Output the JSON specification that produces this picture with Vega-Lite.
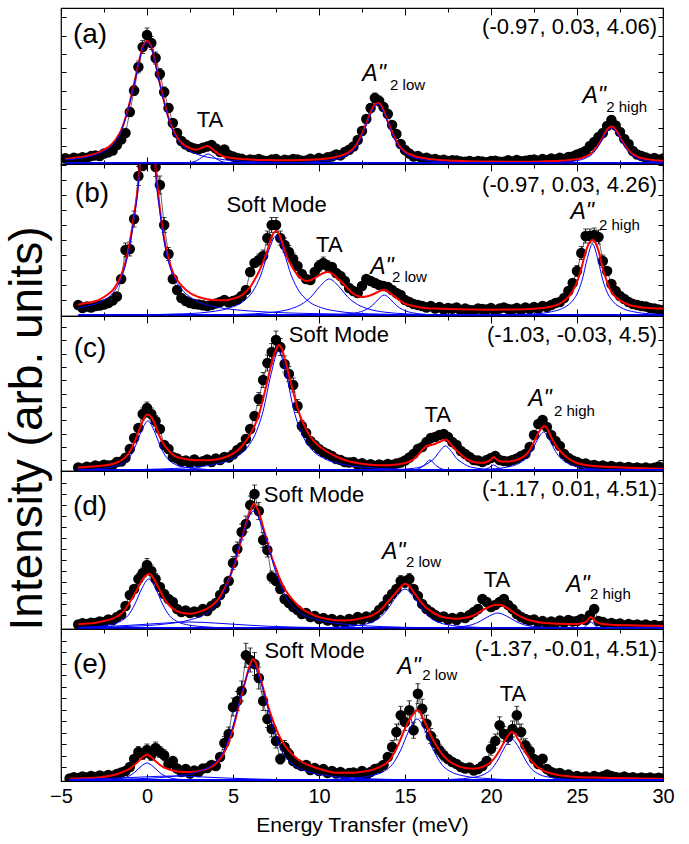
{
"$schema":"https://vega.github.io/schema/vega-lite/v6.json",
"padding":{"left":3,"top":6,"right":20,"bottom":5},
"spacing":0,
"bounds":"flush",
"config":{"view":{"stroke":"black","strokeWidth":1.2},"text":{"font":"Liberation Sans","color":"black"},"concat":{"spacing":0},
"axis":{"domain":false,"grid":false,"labels":false,"tickColor":"black","tickWidth":1,"labelFont":"Liberation Sans","titleFont":"Liberation Sans","titleFontWeight":"normal","labelColor":"black","titleColor":"black","labelFlush":false}},
"datasets":{
"ap":[{"x":-4.75,"y":5.8},{"x":-4.5,"y":4.6},{"x":-4.25,"y":6.3},{"x":-4,"y":5.2},{"x":-3.75,"y":6.8},{"x":-3.5,"y":6},{"x":-3.25,"y":7.9},{"x":-3,"y":8.6},{"x":-2.75,"y":8},{"x":-2.5,"y":10.5},{"x":-2.25,"y":11.8},{"x":-2,"y":13.5},{"x":-1.75,"y":19},{"x":-1.5,"y":24.5},{"x":-1.25,"y":31},{"x":-1,"y":52,"e":4},{"x":-0.75,"y":73.5,"e":5},{"x":-0.5,"y":97,"e":6},{"x":-0.25,"y":117,"e":6.5},{"x":0,"y":129,"e":7},{"x":0.25,"y":121,"e":6.5},{"x":0.5,"y":106,"e":6},{"x":0.75,"y":90,"e":5.5},{"x":1,"y":72,"e":5},{"x":1.25,"y":56,"e":4.5},{"x":1.5,"y":41},{"x":1.75,"y":31},{"x":2,"y":23},{"x":2.25,"y":19.5},{"x":2.5,"y":17},{"x":2.75,"y":15.5},{"x":3,"y":14.8},{"x":3.25,"y":16.2},{"x":3.5,"y":17.5},{"x":3.75,"y":19},{"x":4,"y":15.5},{"x":4.25,"y":12},{"x":4.5,"y":14.5},{"x":4.75,"y":9},{"x":5,"y":7.5},{"x":5.25,"y":6},{"x":5.5,"y":5.2},{"x":5.75,"y":3.6},{"x":6,"y":4.5},{"x":6.25,"y":3.9},{"x":6.5,"y":5},{"x":6.75,"y":3.4},{"x":7,"y":3.1},{"x":7.25,"y":4.4},{"x":7.5,"y":4.9},{"x":7.75,"y":2.8},{"x":8,"y":4.2},{"x":8.25,"y":3.6},{"x":8.5,"y":5},{"x":8.75,"y":4.6},{"x":9,"y":3.3},{"x":9.25,"y":3.6},{"x":9.5,"y":5.2},{"x":9.75,"y":3.9},{"x":10,"y":6},{"x":10.25,"y":4.4},{"x":10.5,"y":6.8},{"x":10.75,"y":7.4},{"x":11,"y":9.5},{"x":11.25,"y":8.6},{"x":11.5,"y":12},{"x":11.75,"y":14.2},{"x":12,"y":17.5},{"x":12.25,"y":24},{"x":12.5,"y":33},{"x":12.75,"y":45,"e":4},{"x":13,"y":56,"e":4.5},{"x":13.25,"y":66,"e":5},{"x":13.5,"y":63,"e":5},{"x":13.75,"y":57,"e":4.5},{"x":14,"y":50,"e":4.5},{"x":14.25,"y":39},{"x":14.5,"y":30},{"x":14.75,"y":20},{"x":15,"y":14},{"x":15.25,"y":10.5},{"x":15.5,"y":7.5},{"x":15.75,"y":8},{"x":16,"y":5.5},{"x":16.25,"y":6.2},{"x":16.5,"y":4.4},{"x":16.75,"y":5},{"x":17,"y":3.4},{"x":17.25,"y":4.2},{"x":17.5,"y":2.9},{"x":17.75,"y":3.8},{"x":18,"y":3.5},{"x":18.25,"y":2.4},{"x":18.5,"y":2.2},{"x":18.75,"y":3},{"x":19,"y":2},{"x":19.25,"y":3.1},{"x":19.5,"y":2.4},{"x":19.75,"y":1.8},{"x":20,"y":2.9},{"x":20.25,"y":3.3},{"x":20.5,"y":2.2},{"x":20.75,"y":2.3},{"x":21,"y":3.8},{"x":21.25,"y":2.6},{"x":21.5,"y":4},{"x":21.75,"y":2.8},{"x":22,"y":3.2},{"x":22.25,"y":4.1},{"x":22.5,"y":4.5},{"x":22.75,"y":3.3},{"x":23,"y":5},{"x":23.25,"y":3.8},{"x":23.5,"y":5.5},{"x":23.75,"y":4.6},{"x":24,"y":6.2},{"x":24.25,"y":5},{"x":24.5,"y":7},{"x":24.75,"y":7.6},{"x":25,"y":9.5},{"x":25.25,"y":11},{"x":25.5,"y":13},{"x":25.75,"y":18},{"x":26,"y":22},{"x":26.25,"y":27},{"x":26.5,"y":31},{"x":26.75,"y":38,"e":3.5},{"x":27,"y":44,"e":4},{"x":27.25,"y":38.5,"e":3.5},{"x":27.5,"y":32},{"x":27.75,"y":25},{"x":28,"y":20},{"x":28.25,"y":13},{"x":28.5,"y":9.5},{"x":28.75,"y":8},{"x":29,"y":6.5},{"x":29.25,"y":5},{"x":29.5,"y":6},{"x":29.75,"y":4.2},{"x":30,"y":5.5}],
"af":[{"x":-4.75,"y":5.2},{"x":-4.5,"y":5.5},{"x":-4,"y":6.5},{"x":-3.5,"y":8.1},{"x":-3,"y":10.2},{"x":-2.5,"y":14.4},{"x":-2.25,"y":16.9},{"x":-2,"y":20.5},{"x":-1.75,"y":26.3},{"x":-1.5,"y":33.9},{"x":-1.25,"y":46.1},{"x":-1,"y":62},{"x":-0.75,"y":80.3},{"x":-0.5,"y":99.8},{"x":-0.25,"y":116.9},{"x":0,"y":123},{"x":0.25,"y":117},{"x":0.5,"y":99.9},{"x":0.75,"y":80.4},{"x":1,"y":62.2},{"x":1.25,"y":46.4},{"x":1.5,"y":34.3},{"x":1.75,"y":26.8},{"x":2,"y":21.2},{"x":2.25,"y":17.9},{"x":2.5,"y":15.9},{"x":2.75,"y":14.5},{"x":3,"y":14.7},{"x":3.25,"y":16.6},{"x":3.5,"y":18},{"x":3.75,"y":15.9},{"x":4,"y":12.1},{"x":4.25,"y":9.1},{"x":4.5,"y":7.3},{"x":4.75,"y":6.4},{"x":5,"y":5.9},{"x":5.5,"y":5},{"x":6,"y":4.4},{"x":7,"y":3.9},{"x":8,"y":3.7},{"x":9,"y":3.9},{"x":10,"y":4.7},{"x":10.5,"y":5.5},{"x":11,"y":7.1},{"x":11.5,"y":9.6},{"x":11.75,"y":11.9},{"x":12,"y":15.6},{"x":12.25,"y":21.5},{"x":12.5,"y":29.8},{"x":12.75,"y":40.3},{"x":13,"y":51.4},{"x":13.25,"y":59.8},{"x":13.5,"y":60.7},{"x":13.75,"y":53.5},{"x":14,"y":42.4},{"x":14.25,"y":31.5},{"x":14.5,"y":22.8},{"x":14.75,"y":16.3},{"x":15,"y":12.3},{"x":15.5,"y":8.2},{"x":16,"y":5.9},{"x":16.5,"y":4.7},{"x":17,"y":4},{"x":18,"y":3.2},{"x":19,"y":2.6},{"x":20,"y":2.4},{"x":22,"y":2.35},{"x":23,"y":2.65},{"x":24,"y":3.2},{"x":24.5,"y":3.85},{"x":25,"y":4.9},{"x":25.25,"y":5.9},{"x":25.5,"y":7.3},{"x":25.75,"y":9.7},{"x":26,"y":13.7},{"x":26.25,"y":19.5},{"x":26.5,"y":26.7},{"x":26.75,"y":34.4},{"x":27,"y":37.5},{"x":27.25,"y":34.4},{"x":27.5,"y":26.7},{"x":27.75,"y":19.5},{"x":28,"y":13.7},{"x":28.25,"y":9.7},{"x":28.5,"y":7.3},{"x":29,"y":4.9},{"x":29.5,"y":3.85},{"x":30,"y":3.2}],
"ac":[{"k":"E0","x":-4.75,"y":4.2},{"k":"E0","x":-4,"y":5.5},{"k":"E0","x":-3,"y":9.2},{"k":"E0","x":-2,"y":19.5},{"k":"E0","x":-1.5,"y":32.9},{"k":"E0","x":-1,"y":61},{"k":"E0","x":-0.75,"y":79.3},{"k":"E0","x":-0.5,"y":98.8},{"k":"E0","x":-0.25,"y":115.9},{"k":"E0","x":0,"y":122},{"k":"E0","x":0.25,"y":115.9},{"k":"E0","x":0.5,"y":98.8},{"k":"E0","x":0.75,"y":79.3},{"k":"E0","x":1,"y":61},{"k":"E0","x":1.5,"y":32.9},{"k":"E0","x":2,"y":19.5},{"k":"E0","x":3,"y":9.2},{"k":"E0","x":4,"y":5.5},{"k":"E0","x":6,"y":2.4},{"k":"E0","x":10,"y":1},{"k":"E0","x":20,"y":0.3},{"k":"E0","x":30,"y":0.2},
{"k":"T","x":-4.75,"y":0.05},{"k":"T","x":0,"y":0.2},{"k":"T","x":1.55,"y":0.45},{"k":"T","x":2.05,"y":0.8},{"k":"T","x":2.55,"y":1.6},{"k":"T","x":2.8,"y":2.7},{"k":"T","x":3.05,"y":5},{"k":"T","x":3.3,"y":8.1},{"k":"T","x":3.55,"y":10},{"k":"T","x":3.8,"y":8.1},{"k":"T","x":4.05,"y":5},{"k":"T","x":4.3,"y":2.7},{"k":"T","x":4.55,"y":1.6},{"k":"T","x":5.05,"y":0.8},{"k":"T","x":5.55,"y":0.45},{"k":"T","x":8,"y":0.15},{"k":"T","x":30,"y":0.01},
{"k":"L","x":-4.75,"y":0.2},{"k":"L","x":5,"y":0.5},{"k":"L","x":8.3,"y":1.2},{"k":"L","x":10,"y":2.7},{"k":"L","x":10.85,"y":4.5},{"k":"L","x":11.7,"y":9.6},{"k":"L","x":12.13,"y":16.2},{"k":"L","x":12.55,"y":30},{"k":"L","x":12.98,"y":48.6},{"k":"L","x":13.4,"y":60},{"k":"L","x":13.83,"y":48.6},{"k":"L","x":14.25,"y":30},{"k":"L","x":14.68,"y":16.2},{"k":"L","x":15.1,"y":9.6},{"k":"L","x":15.95,"y":4.5},{"k":"L","x":16.8,"y":2.7},{"k":"L","x":18.5,"y":1.2},{"k":"L","x":22,"y":0.6},{"k":"L","x":30,"y":0.3},
{"k":"H","x":-4.75,"y":0.05},{"k":"H","x":15,"y":0.2},{"k":"H","x":20,"y":0.4},{"k":"H","x":22.5,"y":0.7},{"k":"H","x":24,"y":1.6},{"k":"H","x":24.75,"y":2.7},{"k":"H","x":25.5,"y":5.8},{"k":"H","x":25.875,"y":9.7},{"k":"H","x":26.25,"y":18},{"k":"H","x":26.625,"y":29.2},{"k":"H","x":27,"y":36},{"k":"H","x":27.375,"y":29.2},{"k":"H","x":27.75,"y":18},{"k":"H","x":28.125,"y":9.7},{"k":"H","x":28.5,"y":5.8},{"k":"H","x":29.25,"y":2.7},{"k":"H","x":30,"y":1.6},
{"k":"bg","x":-4.75,"y":0.8},{"k":"bg","x":30,"y":0.8}],
"at":[{"k":"p","t":"(a)","x":-3.31,"y":129},{"k":"q","t":"(-0.97, 0.03, 4.06)","x":29.65,"y":137},{"k":"m","t":"TA","x":3.66,"y":44},{"k":"A","t":"A\"","x":13.2,"y":90},{"k":"s","t":"2 low","x":14.13,"y":79},{"k":"A","t":"A\"","x":26,"y":68},{"k":"s","t":"2 high","x":26.7,"y":57}],
"bp":[{"x":-4,"y":11},{"x":-3.75,"y":8},{"x":-3.5,"y":9.5},{"x":-3.25,"y":8.5},{"x":-3,"y":10},{"x":-2.75,"y":10.5},{"x":-2.5,"y":11.5},{"x":-2.25,"y":13},{"x":-2,"y":15.5},{"x":-1.75,"y":19.5},{"x":-1.5,"y":37},{"x":-1.25,"y":66,"e":7},{"x":-1,"y":67,"e":7},{"x":-0.75,"y":97,"e":8},{"x":-0.5,"y":140,"e":9.5},{"x":-0.25,"y":150},{"x":0,"y":165},{"x":0.25,"y":160},{"x":0.5,"y":149,"e":9.5},{"x":0.75,"y":131,"e":9},{"x":1,"y":91,"e":7.5},{"x":1.25,"y":62,"e":6.5},{"x":1.5,"y":37},{"x":1.75,"y":26},{"x":2,"y":18},{"x":2.25,"y":15},{"x":2.5,"y":13},{"x":2.75,"y":12},{"x":3,"y":11.5},{"x":3.25,"y":10.8},{"x":3.5,"y":10},{"x":3.75,"y":11},{"x":4,"y":12.5},{"x":4.25,"y":14},{"x":4.5,"y":16},{"x":4.75,"y":13.5},{"x":5,"y":15},{"x":5.25,"y":16.5},{"x":5.5,"y":20},{"x":5.75,"y":26},{"x":6,"y":44},{"x":6.25,"y":53},{"x":6.5,"y":56,"e":6},{"x":6.75,"y":60,"e":6},{"x":7,"y":78,"e":7},{"x":7.25,"y":91,"e":7.5},{"x":7.5,"y":91,"e":7.5},{"x":7.75,"y":78,"e":7},{"x":8,"y":71,"e":7},{"x":8.25,"y":64,"e":6.5},{"x":8.5,"y":57,"e":6},{"x":8.75,"y":50},{"x":9,"y":42},{"x":9.25,"y":37},{"x":9.5,"y":36},{"x":9.75,"y":44},{"x":10,"y":50,"e":5.5},{"x":10.25,"y":53,"e":6},{"x":10.5,"y":50,"e":5.5},{"x":10.75,"y":49},{"x":11,"y":43},{"x":11.25,"y":40},{"x":11.5,"y":35},{"x":11.75,"y":28},{"x":12,"y":25},{"x":12.25,"y":23},{"x":12.5,"y":30},{"x":12.75,"y":37},{"x":13,"y":35},{"x":13.25,"y":33},{"x":13.5,"y":31},{"x":13.75,"y":30},{"x":14,"y":29},{"x":14.25,"y":26},{"x":14.5,"y":23},{"x":14.75,"y":21},{"x":15,"y":16},{"x":15.25,"y":14},{"x":15.5,"y":12},{"x":15.75,"y":11},{"x":16,"y":10},{"x":16.25,"y":8.5},{"x":16.5,"y":10},{"x":16.75,"y":7.5},{"x":17,"y":9},{"x":17.25,"y":6.5},{"x":17.5,"y":8},{"x":17.75,"y":7.2},{"x":18,"y":8.5},{"x":18.25,"y":5.5},{"x":18.5,"y":7.5},{"x":18.75,"y":6},{"x":19,"y":5.8},{"x":19.25,"y":7.5},{"x":19.5,"y":7},{"x":19.75,"y":6.5},{"x":20,"y":8},{"x":20.25,"y":5.5},{"x":20.5,"y":7.5},{"x":20.75,"y":8.6},{"x":21,"y":7},{"x":21.25,"y":6.5},{"x":21.5,"y":8},{"x":21.75,"y":6},{"x":22,"y":8.5},{"x":22.25,"y":7},{"x":22.5,"y":9},{"x":22.75,"y":7.5},{"x":23,"y":10},{"x":23.25,"y":9},{"x":23.5,"y":11},{"x":23.75,"y":13},{"x":24,"y":14},{"x":24.25,"y":18},{"x":24.5,"y":25},{"x":24.75,"y":33},{"x":25,"y":45,"e":5.5},{"x":25.25,"y":63,"e":6.5},{"x":25.5,"y":80,"e":7},{"x":25.75,"y":80,"e":7},{"x":26,"y":81,"e":7},{"x":26.25,"y":79,"e":7},{"x":26.5,"y":55,"e":6},{"x":26.75,"y":45},{"x":27,"y":32},{"x":27.25,"y":25},{"x":27.5,"y":20},{"x":27.75,"y":17},{"x":28,"y":14},{"x":28.25,"y":12},{"x":28.5,"y":11},{"x":28.75,"y":10},{"x":29,"y":9.5},{"x":29.25,"y":8},{"x":29.5,"y":7.5},{"x":29.75,"y":6.5},{"x":30,"y":6}],
"bf":[{"x":-4,"y":11.3},{"x":-3.5,"y":13},{"x":-3,"y":14.7},{"x":-2.5,"y":19},{"x":-2.25,"y":22},{"x":-2,"y":25.7},{"x":-1.75,"y":32},{"x":-1.5,"y":40.7},{"x":-1.25,"y":54},{"x":-1,"y":74},{"x":-0.75,"y":100.7},{"x":-0.5,"y":134},{"x":-0.4,"y":154},{"x":-0.25,"y":200},{"x":0,"y":290},{"x":0.25,"y":250},{"x":0.5,"y":147},{"x":0.6,"y":130.7},{"x":0.75,"y":107},{"x":1,"y":77.3},{"x":1.25,"y":57.3},{"x":1.5,"y":44},{"x":1.75,"y":36},{"x":2,"y":30.7},{"x":2.5,"y":23},{"x":3,"y":19},{"x":3.5,"y":16.7},{"x":4,"y":15.7},{"x":4.5,"y":15.7},{"x":5,"y":17.3},{"x":5.5,"y":20.7},{"x":6,"y":29},{"x":6.25,"y":36},{"x":6.5,"y":44},{"x":6.75,"y":54},{"x":7,"y":65.7},{"x":7.25,"y":79},{"x":7.5,"y":85},{"x":7.75,"y":79},{"x":8,"y":65.7},{"x":8.25,"y":55},{"x":8.5,"y":47.3},{"x":8.75,"y":41},{"x":9,"y":37.3},{"x":9.25,"y":35},{"x":9.5,"y":35.7},{"x":9.75,"y":38},{"x":10,"y":40.7},{"x":10.25,"y":43},{"x":10.5,"y":44},{"x":10.75,"y":42.5},{"x":11,"y":39},{"x":11.25,"y":35},{"x":11.5,"y":30.7},{"x":11.75,"y":26},{"x":12,"y":22.3},{"x":12.25,"y":20},{"x":12.5,"y":19},{"x":12.75,"y":19.5},{"x":13,"y":20.7},{"x":13.25,"y":22.5},{"x":13.5,"y":24.7},{"x":13.75,"y":26.3},{"x":14,"y":24.7},{"x":14.25,"y":21.5},{"x":14.5,"y":18},{"x":14.75,"y":15},{"x":15,"y":12.3},{"x":15.5,"y":10},{"x":16,"y":8.3},{"x":17,"y":7.3},{"x":18,"y":6.7},{"x":20,"y":6.3},{"x":22,"y":6.7},{"x":23,"y":8},{"x":23.5,"y":9.5},{"x":24,"y":12.3},{"x":24.5,"y":19},{"x":24.75,"y":25},{"x":25,"y":34},{"x":25.25,"y":47.3},{"x":25.5,"y":64},{"x":25.75,"y":74},{"x":25.9,"y":76.3},{"x":26.1,"y":72.3},{"x":26.3,"y":62.3},{"x":26.5,"y":47.3},{"x":26.75,"y":34},{"x":27,"y":24},{"x":27.25,"y":19},{"x":27.5,"y":15.7},{"x":28,"y":11.3},{"x":29,"y":8.3},{"x":30,"y":7.3}],
"bc":[{"k":"E0","x":-4,"y":8},{"k":"E0","x":-3.5,"y":10},{"k":"E0","x":-3,"y":12},{"k":"E0","x":-2.5,"y":16},{"k":"E0","x":-2,"y":22.7},{"k":"E0","x":-1.5,"y":37.7},{"k":"E0","x":-1.25,"y":51},{"k":"E0","x":-1,"y":71},{"k":"E0","x":-0.75,"y":97.7},{"k":"E0","x":-0.5,"y":131},{"k":"E0","x":-0.25,"y":197},{"k":"E0","x":0,"y":287},{"k":"E0","x":0.25,"y":247},{"k":"E0","x":0.5,"y":144},{"k":"E0","x":0.75,"y":104},{"k":"E0","x":1,"y":74},{"k":"E0","x":1.25,"y":54},{"k":"E0","x":1.5,"y":41},{"k":"E0","x":2,"y":27},{"k":"E0","x":2.5,"y":19},{"k":"E0","x":3,"y":14},{"k":"E0","x":4,"y":9},{"k":"E0","x":5,"y":6.5},{"k":"E0","x":6,"y":5},{"k":"E0","x":8,"y":3.2},{"k":"E0","x":10,"y":2.3},{"k":"E0","x":15,"y":1.2},{"k":"E0","x":20,"y":0.8},{"k":"E0","x":30,"y":0.4},
{"k":"S","x":-4,"y":0.5},{"k":"S","x":2.1,"y":2.2},{"k":"S","x":3.9,"y":4.7},{"k":"S","x":4.8,"y":8},{"k":"S","x":5.7,"y":16},{"k":"S","x":6.15,"y":24.6},{"k":"S","x":6.6,"y":40},{"k":"S","x":7.05,"y":64},{"k":"S","x":7.5,"y":80},{"k":"S","x":7.95,"y":64},{"k":"S","x":8.4,"y":40},{"k":"S","x":8.85,"y":24.6},{"k":"S","x":9.3,"y":16},{"k":"S","x":10.2,"y":8},{"k":"S","x":11.1,"y":4.7},{"k":"S","x":12.9,"y":2.2},{"k":"S","x":20,"y":0.4},{"k":"S","x":30,"y":0.15},
{"k":"T","x":-4,"y":0.2},{"k":"T","x":4,"y":1},{"k":"T","x":6.2,"y":2.2},{"k":"T","x":7.3,"y":3.7},{"k":"T","x":8.4,"y":7.4},{"k":"T","x":8.95,"y":11.4},{"k":"T","x":9.5,"y":18.5},{"k":"T","x":10.05,"y":29.6},{"k":"T","x":10.6,"y":37},{"k":"T","x":11.15,"y":29.6},{"k":"T","x":11.7,"y":18.5},{"k":"T","x":12.25,"y":11.4},{"k":"T","x":12.8,"y":7.4},{"k":"T","x":13.9,"y":3.7},{"k":"T","x":15,"y":2.2},{"k":"T","x":17.2,"y":1},{"k":"T","x":30,"y":0.2},
{"k":"L","x":-4,"y":0.03},{"k":"L","x":9.6,"y":0.57},{"k":"L","x":11,"y":1.2},{"k":"L","x":11.7,"y":2.1},{"k":"L","x":12.4,"y":4.2},{"k":"L","x":12.75,"y":6.5},{"k":"L","x":13.1,"y":10.5},{"k":"L","x":13.45,"y":16.8},{"k":"L","x":13.8,"y":21},{"k":"L","x":14.15,"y":16.8},{"k":"L","x":14.5,"y":10.5},{"k":"L","x":14.85,"y":6.5},{"k":"L","x":15.2,"y":4.2},{"k":"L","x":15.9,"y":2.1},{"k":"L","x":16.6,"y":1.2},{"k":"L","x":18,"y":0.57},{"k":"L","x":30,"y":0.04},
{"k":"H","x":-4,"y":0.04},{"k":"H","x":15,"y":0.2},{"k":"H","x":22.3,"y":1.9},{"k":"H","x":23.5,"y":4.2},{"k":"H","x":24.1,"y":7.2},{"k":"H","x":24.7,"y":14.4},{"k":"H","x":25,"y":22},{"k":"H","x":25.3,"y":36},{"k":"H","x":25.6,"y":57.6},{"k":"H","x":25.9,"y":72},{"k":"H","x":26.2,"y":57.6},{"k":"H","x":26.5,"y":36},{"k":"H","x":26.8,"y":22},{"k":"H","x":27.1,"y":14.4},{"k":"H","x":27.7,"y":7.2},{"k":"H","x":28.3,"y":4.2},{"k":"H","x":29.5,"y":1.9},{"k":"H","x":30,"y":1.5},
{"k":"bg","x":-4,"y":0.8},{"k":"bg","x":30,"y":0.8}],
"bt":[{"k":"p","t":"(b)","x":-3.2,"y":122},{"k":"q","t":"(-0.97, 0.03, 4.26)","x":29.65,"y":131},{"k":"m","t":"Soft Mode","x":7.53,"y":111},{"k":"m","t":"TA","x":10.6,"y":71},{"k":"A","t":"A\"","x":13.66,"y":49},{"k":"s","t":"2 low","x":14.24,"y":39},{"k":"A","t":"A\"","x":25.3,"y":104},{"k":"s","t":"2 high","x":26.28,"y":91}],
"cp":[{"x":-4,"y":3.5},{"x":-3.75,"y":2.5},{"x":-3.5,"y":4.2},{"x":-3.25,"y":3.6},{"x":-3,"y":5.5},{"x":-2.75,"y":4.4},{"x":-2.5,"y":6.3},{"x":-2.25,"y":5.5},{"x":-2,"y":6},{"x":-1.75,"y":8.9},{"x":-1.5,"y":9.5},{"x":-1.25,"y":13.2},{"x":-1,"y":22},{"x":-0.75,"y":33},{"x":-0.5,"y":43},{"x":-0.25,"y":57,"e":6},{"x":0,"y":63,"e":6},{"x":0.25,"y":57,"e":6},{"x":0.5,"y":50,"e":5.5},{"x":0.75,"y":42},{"x":1,"y":26},{"x":1.25,"y":22},{"x":1.5,"y":14},{"x":1.75,"y":12.5},{"x":2,"y":9.5},{"x":2.25,"y":10.5},{"x":2.5,"y":8},{"x":2.75,"y":11.5},{"x":3,"y":8.5},{"x":3.25,"y":9.8},{"x":3.5,"y":11.5},{"x":3.75,"y":9},{"x":4,"y":12.5},{"x":4.25,"y":11},{"x":4.5,"y":14},{"x":4.75,"y":13.5},{"x":5,"y":16.5},{"x":5.25,"y":21},{"x":5.5,"y":24},{"x":5.75,"y":32},{"x":6,"y":42},{"x":6.25,"y":55},{"x":6.5,"y":72,"e":6.5},{"x":6.75,"y":91,"e":7.5},{"x":7,"y":108,"e":8},{"x":7.25,"y":119,"e":8.5},{"x":7.5,"y":131,"e":9},{"x":7.75,"y":124,"e":8.5},{"x":8,"y":107,"e":8},{"x":8.25,"y":97,"e":7.5},{"x":8.5,"y":86,"e":7},{"x":8.75,"y":65,"e":6.5},{"x":9,"y":45,"e":5.5},{"x":9.25,"y":38},{"x":9.5,"y":30},{"x":9.75,"y":26},{"x":10,"y":22},{"x":10.25,"y":19},{"x":10.5,"y":17},{"x":10.75,"y":15},{"x":11,"y":12},{"x":11.25,"y":11},{"x":11.5,"y":9},{"x":11.75,"y":8.5},{"x":12,"y":9},{"x":12.25,"y":6.5},{"x":12.5,"y":7.8},{"x":12.75,"y":5.5},{"x":13,"y":6.8},{"x":13.25,"y":5},{"x":13.5,"y":6.5},{"x":13.75,"y":5.2},{"x":14,"y":7},{"x":14.25,"y":6},{"x":14.5,"y":7.5},{"x":14.75,"y":8.5},{"x":15,"y":10.5},{"x":15.25,"y":13.5},{"x":15.5,"y":17},{"x":15.75,"y":22},{"x":16,"y":24},{"x":16.25,"y":29},{"x":16.5,"y":33},{"x":16.75,"y":34},{"x":17,"y":36},{"x":17.25,"y":37},{"x":17.5,"y":34},{"x":17.75,"y":29},{"x":18,"y":26},{"x":18.25,"y":20},{"x":18.5,"y":17},{"x":18.75,"y":14},{"x":19,"y":11},{"x":19.25,"y":10.5},{"x":19.5,"y":9},{"x":19.75,"y":11},{"x":20,"y":13},{"x":20.25,"y":15},{"x":20.5,"y":11},{"x":20.75,"y":10},{"x":21,"y":9.5},{"x":21.25,"y":11},{"x":21.5,"y":12.5},{"x":21.75,"y":15},{"x":22,"y":17},{"x":22.25,"y":24},{"x":22.5,"y":36},{"x":22.75,"y":47},{"x":23,"y":51},{"x":23.25,"y":44},{"x":23.5,"y":36},{"x":23.75,"y":30},{"x":24,"y":25},{"x":24.25,"y":17},{"x":24.5,"y":13},{"x":24.75,"y":10.5},{"x":25,"y":9},{"x":25.25,"y":7},{"x":25.5,"y":7.5},{"x":25.75,"y":5.5},{"x":26,"y":6},{"x":26.25,"y":4.5},{"x":26.5,"y":5.5},{"x":26.75,"y":4},{"x":27,"y":5},{"x":27.25,"y":3.5},{"x":27.5,"y":4.2},{"x":27.75,"y":3},{"x":28,"y":4},{"x":28.25,"y":2.8},{"x":28.5,"y":3.6},{"x":28.75,"y":2.5},{"x":29,"y":3.4},{"x":29.25,"y":2.4},{"x":29.5,"y":3.2},{"x":29.75,"y":4.5},{"x":30,"y":3}],
"cf":[{"x":-4,"y":3.5},{"x":-3.5,"y":4},{"x":-3,"y":4.8},{"x":-2.5,"y":5.6},{"x":-2,"y":7},{"x":-1.75,"y":8.5},{"x":-1.5,"y":10.5},{"x":-1.25,"y":14},{"x":-1,"y":19.5},{"x":-0.75,"y":28},{"x":-0.5,"y":39},{"x":-0.25,"y":50},{"x":0,"y":56.5},{"x":0.25,"y":54},{"x":0.5,"y":45},{"x":0.75,"y":34},{"x":1,"y":26},{"x":1.25,"y":20.5},{"x":1.5,"y":16.5},{"x":1.75,"y":14},{"x":2,"y":12.8},{"x":2.5,"y":11.2},{"x":3,"y":10.7},{"x":3.5,"y":10.8},{"x":4,"y":11.5},{"x":4.5,"y":13.5},{"x":5,"y":17.3},{"x":5.25,"y":20.5},{"x":5.5,"y":24.5},{"x":5.75,"y":30},{"x":6,"y":36.5},{"x":6.25,"y":45},{"x":6.5,"y":56},{"x":6.75,"y":72},{"x":7,"y":90},{"x":7.25,"y":108},{"x":7.5,"y":121},{"x":7.65,"y":126},{"x":7.75,"y":125},{"x":8,"y":113},{"x":8.25,"y":96},{"x":8.5,"y":79},{"x":8.75,"y":63},{"x":9,"y":51},{"x":9.25,"y":42},{"x":9.5,"y":34.5},{"x":9.75,"y":29},{"x":10,"y":25},{"x":10.5,"y":19},{"x":11,"y":14.5},{"x":11.5,"y":11},{"x":12,"y":8.7},{"x":12.5,"y":7.2},{"x":13,"y":6.2},{"x":13.5,"y":5.8},{"x":14,"y":5.8},{"x":14.5,"y":6.5},{"x":15,"y":8},{"x":15.25,"y":9.5},{"x":15.5,"y":12},{"x":15.75,"y":15.7},{"x":16,"y":21},{"x":16.25,"y":25},{"x":16.5,"y":26},{"x":16.75,"y":27},{"x":17,"y":29},{"x":17.25,"y":31},{"x":17.4,"y":31.3},{"x":17.6,"y":28},{"x":17.75,"y":25},{"x":18,"y":20.5},{"x":18.25,"y":16.5},{"x":18.5,"y":13},{"x":18.75,"y":10.5},{"x":19,"y":9},{"x":19.25,"y":8.2},{"x":19.5,"y":8.2},{"x":19.75,"y":9},{"x":20,"y":11.5},{"x":20.15,"y":14},{"x":20.3,"y":12},{"x":20.5,"y":9.8},{"x":20.75,"y":9.5},{"x":21,"y":9.6},{"x":21.25,"y":10},{"x":21.5,"y":11.2},{"x":21.75,"y":13},{"x":22,"y":15.7},{"x":22.25,"y":21},{"x":22.5,"y":29},{"x":22.75,"y":38},{"x":23,"y":44},{"x":23.1,"y":45},{"x":23.25,"y":43},{"x":23.5,"y":34},{"x":23.75,"y":26},{"x":24,"y":20.5},{"x":24.25,"y":16},{"x":24.5,"y":12.5},{"x":25,"y":8},{"x":25.5,"y":6},{"x":26,"y":5},{"x":27,"y":4},{"x":28,"y":3.2},{"x":29,"y":2.7},{"x":30,"y":2.3}],
"cc":[{"k":"E0","x":-4,"y":0.9},{"k":"E0","x":-2.83,"y":2.25},{"k":"E0","x":-2.11,"y":3.75},{"k":"E0","x":-1.39,"y":8},{"k":"E0","x":-1.03,"y":13.5},{"k":"E0","x":-0.67,"y":25},{"k":"E0","x":-0.31,"y":40.5},{"k":"E0","x":0.05,"y":50},{"k":"E0","x":0.41,"y":40.5},{"k":"E0","x":0.77,"y":25},{"k":"E0","x":1.13,"y":13.5},{"k":"E0","x":1.49,"y":8},{"k":"E0","x":2.21,"y":3.75},{"k":"E0","x":2.93,"y":2.25},{"k":"E0","x":4.37,"y":1},{"k":"E0","x":10,"y":0.3},{"k":"E0","x":30,"y":0.05},
{"k":"S","x":-4,"y":0.7},{"k":"S","x":-0.35,"y":1.5},{"k":"S","x":2.25,"y":3.2},{"k":"S","x":4.05,"y":7.1},{"k":"S","x":4.95,"y":12},{"k":"S","x":5.85,"y":24},{"k":"S","x":6.3,"y":37},{"k":"S","x":6.75,"y":60},{"k":"S","x":7.2,"y":96},{"k":"S","x":7.65,"y":120},{"k":"S","x":8.1,"y":96},{"k":"S","x":8.55,"y":60},{"k":"S","x":9,"y":37},{"k":"S","x":9.45,"y":24},{"k":"S","x":10.35,"y":12},{"k":"S","x":11.25,"y":7.1},{"k":"S","x":13.05,"y":3.2},{"k":"S","x":15.65,"y":1.5},{"k":"S","x":30,"y":0.4},
{"k":"T1","x":-4,"y":0},{"k":"T1","x":13,"y":0.2},{"k":"T1","x":14.7,"y":0.4},{"k":"T1","x":15.4,"y":1},{"k":"T1","x":15.75,"y":2},{"k":"T1","x":16.1,"y":5.5},{"k":"T1","x":16.45,"y":11},{"k":"T1","x":16.8,"y":5.5},{"k":"T1","x":17.15,"y":2},{"k":"T1","x":17.5,"y":1},{"k":"T1","x":18.2,"y":0.4},{"k":"T1","x":20,"y":0.2},{"k":"T1","x":30,"y":0.05},
{"k":"T2","x":-4,"y":0.03},{"k":"T2","x":12,"y":0.37},{"k":"T2","x":14.1,"y":1},{"k":"T2","x":15.4,"y":2.5},{"k":"T2","x":16.05,"y":5},{"k":"T2","x":16.4,"y":8.5},{"k":"T2","x":16.7,"y":12.5},{"k":"T2","x":17,"y":19.5},{"k":"T2","x":17.35,"y":25},{"k":"T2","x":17.7,"y":19.5},{"k":"T2","x":18,"y":12.5},{"k":"T2","x":18.3,"y":8.5},{"k":"T2","x":18.65,"y":5},{"k":"T2","x":19.3,"y":2.5},{"k":"T2","x":20.6,"y":1},{"k":"T2","x":23,"y":0.33},{"k":"T2","x":30,"y":0.07},
{"k":"X","x":-4,"y":0},{"k":"X","x":18.5,"y":0.2},{"k":"X","x":19.25,"y":0.6},{"k":"X","x":19.55,"y":1.2},{"k":"X","x":19.85,"y":3},{"k":"X","x":20.15,"y":6},{"k":"X","x":20.45,"y":3},{"k":"X","x":20.75,"y":1.2},{"k":"X","x":21.05,"y":0.6},{"k":"X","x":22,"y":0.2},{"k":"X","x":30,"y":0},
{"k":"H","x":-4,"y":0.03},{"k":"H","x":15,"y":0.3},{"k":"H","x":18.85,"y":1.05},{"k":"H","x":20.25,"y":2.3},{"k":"H","x":20.95,"y":3.9},{"k":"H","x":21.65,"y":7.8},{"k":"H","x":22,"y":12},{"k":"H","x":22.35,"y":19.5},{"k":"H","x":22.7,"y":31.2},{"k":"H","x":23.05,"y":39},{"k":"H","x":23.4,"y":31.2},{"k":"H","x":23.75,"y":19.5},{"k":"H","x":24.1,"y":12},{"k":"H","x":24.45,"y":7.8},{"k":"H","x":25.15,"y":3.9},{"k":"H","x":25.85,"y":2.3},{"k":"H","x":27.25,"y":1.05},{"k":"H","x":30,"y":0.4},
{"k":"bg","x":-4,"y":0.8},{"k":"bg","x":30,"y":0.8}],
"ct":[{"k":"p","t":"(c)","x":-3.31,"y":122},{"k":"q","t":"(-1.03, -0.03, 4.5)","x":29.65,"y":136},{"k":"m","t":"Soft Mode","x":11.16,"y":136},{"k":"m","t":"TA","x":16.9,"y":56},{"k":"A","t":"A\"","x":22.85,"y":72},{"k":"s","t":"2 high","x":23.66,"y":60}],
"dp":[{"x":-4,"y":4.5},{"x":-3.75,"y":5.8},{"x":-3.5,"y":5},{"x":-3.25,"y":6.2},{"x":-3,"y":5.9},{"x":-2.75,"y":7.5},{"x":-2.5,"y":7},{"x":-2.25,"y":9.5},{"x":-2,"y":8.8},{"x":-1.75,"y":12},{"x":-1.5,"y":14.5},{"x":-1.25,"y":23},{"x":-1,"y":34},{"x":-0.75,"y":40},{"x":-0.5,"y":50,"e":5.5},{"x":-0.25,"y":56,"e":6},{"x":0,"y":64,"e":6.5},{"x":0.25,"y":58,"e":6},{"x":0.5,"y":50,"e":5.5},{"x":0.75,"y":42},{"x":1,"y":35},{"x":1.25,"y":30},{"x":1.5,"y":27},{"x":1.75,"y":20},{"x":2,"y":17},{"x":2.25,"y":18.5},{"x":2.5,"y":16},{"x":2.75,"y":17.5},{"x":3,"y":16.5},{"x":3.25,"y":20},{"x":3.5,"y":18},{"x":3.75,"y":23},{"x":4,"y":26},{"x":4.25,"y":34},{"x":4.5,"y":40},{"x":4.75,"y":48},{"x":5,"y":66,"e":6.5},{"x":5.25,"y":80,"e":7},{"x":5.5,"y":97,"e":8},{"x":5.75,"y":105,"e":8},{"x":6,"y":124,"e":9},{"x":6.25,"y":135,"e":9},{"x":6.5,"y":118,"e":8.5},{"x":6.75,"y":89,"e":7.5},{"x":7,"y":79,"e":7},{"x":7.25,"y":52,"e":6},{"x":7.5,"y":48},{"x":7.75,"y":40},{"x":8,"y":30},{"x":8.25,"y":26},{"x":8.5,"y":22},{"x":8.75,"y":19},{"x":9,"y":15},{"x":9.25,"y":16},{"x":9.5,"y":12},{"x":9.75,"y":13},{"x":10,"y":10},{"x":10.25,"y":11},{"x":10.5,"y":8.5},{"x":10.75,"y":10},{"x":11,"y":7},{"x":11.25,"y":9},{"x":11.5,"y":6},{"x":11.75,"y":10},{"x":12,"y":8},{"x":12.25,"y":12},{"x":12.5,"y":9.5},{"x":12.75,"y":12.5},{"x":13,"y":11},{"x":13.25,"y":14},{"x":13.5,"y":19},{"x":13.75,"y":23},{"x":14,"y":30},{"x":14.25,"y":35},{"x":14.5,"y":40},{"x":14.75,"y":48,"e":5.5},{"x":15,"y":47,"e":5.5},{"x":15.25,"y":50,"e":5.5},{"x":15.5,"y":40},{"x":15.75,"y":33},{"x":16,"y":25},{"x":16.25,"y":20},{"x":16.5,"y":17},{"x":16.75,"y":14},{"x":17,"y":11.5},{"x":17.25,"y":12.5},{"x":17.5,"y":9.5},{"x":17.75,"y":11},{"x":18,"y":9},{"x":18.25,"y":12},{"x":18.5,"y":11},{"x":18.75,"y":14},{"x":19,"y":17},{"x":19.25,"y":20},{"x":19.5,"y":30},{"x":19.75,"y":27},{"x":20,"y":22},{"x":20.25,"y":24},{"x":20.5,"y":27},{"x":20.75,"y":30},{"x":21,"y":24},{"x":21.25,"y":20},{"x":21.5,"y":15},{"x":21.75,"y":12},{"x":22,"y":10},{"x":22.25,"y":8.5},{"x":22.5,"y":9.5},{"x":22.75,"y":6.5},{"x":23,"y":8},{"x":23.25,"y":5.5},{"x":23.5,"y":7.5},{"x":23.75,"y":6},{"x":24,"y":8.5},{"x":24.25,"y":6.5},{"x":24.5,"y":9},{"x":24.75,"y":7.5},{"x":25,"y":8},{"x":25.25,"y":10},{"x":25.5,"y":9},{"x":25.75,"y":14},{"x":26,"y":20},{"x":26.25,"y":8},{"x":26.5,"y":7},{"x":26.75,"y":5},{"x":27,"y":6},{"x":27.25,"y":4.5},{"x":27.5,"y":5.5},{"x":27.75,"y":3.5},{"x":28,"y":5},{"x":28.25,"y":3.8},{"x":28.5,"y":4.6},{"x":28.75,"y":3.2},{"x":29,"y":4.5},{"x":29.25,"y":3},{"x":29.5,"y":4},{"x":29.75,"y":2.8},{"x":30,"y":3.5}],
"df":[{"x":-4,"y":4.8},{"x":-3.5,"y":5.4},{"x":-3,"y":6.3},{"x":-2.5,"y":8},{"x":-2,"y":10.3},{"x":-1.75,"y":12.5},{"x":-1.5,"y":15.3},{"x":-1.25,"y":20},{"x":-1,"y":27},{"x":-0.75,"y":34},{"x":-0.5,"y":42},{"x":-0.25,"y":50},{"x":0,"y":54.5},{"x":0.1,"y":55.3},{"x":0.25,"y":54},{"x":0.5,"y":47},{"x":0.75,"y":38.5},{"x":1,"y":30.3},{"x":1.25,"y":24.5},{"x":1.5,"y":20.3},{"x":1.75,"y":17.8},{"x":2,"y":16.3},{"x":2.5,"y":15.3},{"x":3,"y":17},{"x":3.5,"y":20.3},{"x":4,"y":27},{"x":4.25,"y":32.5},{"x":4.5,"y":40.3},{"x":4.75,"y":49},{"x":5,"y":60.3},{"x":5.25,"y":74},{"x":5.5,"y":90.3},{"x":5.75,"y":105},{"x":6,"y":117},{"x":6.2,"y":125.3},{"x":6.4,"y":121},{"x":6.5,"y":117},{"x":6.75,"y":102},{"x":7,"y":87},{"x":7.25,"y":72},{"x":7.5,"y":60.3},{"x":7.75,"y":49},{"x":8,"y":40.3},{"x":8.5,"y":28.7},{"x":9,"y":20.3},{"x":9.5,"y":15.5},{"x":10,"y":12},{"x":10.5,"y":10},{"x":11,"y":8.7},{"x":11.5,"y":8.6},{"x":12,"y":9.3},{"x":12.5,"y":10.8},{"x":13,"y":13},{"x":13.25,"y":15},{"x":13.5,"y":18},{"x":13.75,"y":22},{"x":14,"y":27},{"x":14.25,"y":32},{"x":14.5,"y":37},{"x":14.75,"y":42},{"x":15,"y":45.3},{"x":15.25,"y":43},{"x":15.5,"y":37},{"x":15.75,"y":31},{"x":16,"y":25.3},{"x":16.25,"y":21},{"x":16.5,"y":18},{"x":17,"y":13},{"x":17.5,"y":11},{"x":18,"y":10.3},{"x":18.5,"y":11.2},{"x":19,"y":13.7},{"x":19.5,"y":18.7},{"x":20,"y":23},{"x":20.4,"y":24.3},{"x":20.75,"y":23},{"x":21,"y":20.3},{"x":21.5,"y":14.5},{"x":22,"y":10.3},{"x":22.5,"y":7.8},{"x":23,"y":6.3},{"x":24,"y":5.3},{"x":25,"y":5},{"x":25.25,"y":5.6},{"x":25.5,"y":7},{"x":25.65,"y":9.5},{"x":25.8,"y":12},{"x":25.95,"y":10},{"x":26.1,"y":7.2},{"x":26.3,"y":5.8},{"x":26.5,"y":5},{"x":27,"y":4.3},{"x":28,"y":3.7},{"x":29,"y":3.3},{"x":30,"y":3}],
"dc":[{"k":"E0","x":-4,"y":1},{"k":"E0","x":-3.1,"y":2.25},{"k":"E0","x":-2.3,"y":3.75},{"k":"E0","x":-1.5,"y":8},{"k":"E0","x":-1.1,"y":13.5},{"k":"E0","x":-0.7,"y":25},{"k":"E0","x":-0.3,"y":40.5},{"k":"E0","x":0.1,"y":50},{"k":"E0","x":0.5,"y":40.5},{"k":"E0","x":0.9,"y":25},{"k":"E0","x":1.3,"y":13.5},{"k":"E0","x":1.7,"y":8},{"k":"E0","x":2.5,"y":3.75},{"k":"E0","x":3.3,"y":2.25},{"k":"E0","x":4.9,"y":1},{"k":"E0","x":10,"y":0.3},{"k":"E0","x":30,"y":0.05},
{"k":"B","x":-4,"y":1.6},{"k":"B","x":-2,"y":2.8},{"k":"B","x":0,"y":4.8},{"k":"B","x":1,"y":5.9},{"k":"B","x":2.5,"y":7},{"k":"B","x":4,"y":5.9},{"k":"B","x":5,"y":4.8},{"k":"B","x":7,"y":2.8},{"k":"B","x":10,"y":1.4},{"k":"B","x":15,"y":0.55},{"k":"B","x":30,"y":0.15},
{"k":"S","x":-4,"y":1.1},{"k":"S","x":-1.3,"y":2.4},{"k":"S","x":1.2,"y":5.3},{"k":"S","x":2.45,"y":8.9},{"k":"S","x":3.7,"y":18.9},{"k":"S","x":4.325,"y":31.9},{"k":"S","x":4.95,"y":59},{"k":"S","x":5.575,"y":95.6},{"k":"S","x":6.2,"y":118},{"k":"S","x":6.825,"y":95.6},{"k":"S","x":7.45,"y":59},{"k":"S","x":8.075,"y":31.9},{"k":"S","x":8.7,"y":18.9},{"k":"S","x":9.95,"y":8.9},{"k":"S","x":11.2,"y":5.3},{"k":"S","x":13.7,"y":2.4},{"k":"S","x":16.2,"y":1.4},{"k":"S","x":30,"y":0.5},
{"k":"L","x":-4,"y":0.2},{"k":"L","x":9,"y":0.8},{"k":"L","x":11,"y":1.8},{"k":"L","x":12,"y":3},{"k":"L","x":13,"y":6.4},{"k":"L","x":13.5,"y":10.8},{"k":"L","x":14,"y":20},{"k":"L","x":14.5,"y":32.4},{"k":"L","x":15,"y":40},{"k":"L","x":15.5,"y":32.4},{"k":"L","x":16,"y":20},{"k":"L","x":16.5,"y":10.8},{"k":"L","x":17,"y":6.4},{"k":"L","x":18,"y":3},{"k":"L","x":19,"y":1.8},{"k":"L","x":21,"y":0.8},{"k":"L","x":30,"y":0.2},
{"k":"T","x":-4,"y":0.1},{"k":"T","x":14.4,"y":0.32},{"k":"T","x":16.4,"y":0.72},{"k":"T","x":17.4,"y":1.2},{"k":"T","x":18.4,"y":2.6},{"k":"T","x":18.9,"y":4.3},{"k":"T","x":19.4,"y":8},{"k":"T","x":19.9,"y":13},{"k":"T","x":20.4,"y":16},{"k":"T","x":20.9,"y":13},{"k":"T","x":21.4,"y":8},{"k":"T","x":21.9,"y":4.3},{"k":"T","x":22.4,"y":2.6},{"k":"T","x":23.4,"y":1.2},{"k":"T","x":24.4,"y":0.72},{"k":"T","x":26.4,"y":0.32},{"k":"T","x":30,"y":0.15},
{"k":"H","x":-4,"y":0},{"k":"H","x":22,"y":0.1},{"k":"H","x":24.8,"y":0.3},{"k":"H","x":25.3,"y":0.8},{"k":"H","x":25.55,"y":3.5},{"k":"H","x":25.8,"y":7},{"k":"H","x":26.05,"y":3.5},{"k":"H","x":26.3,"y":0.8},{"k":"H","x":26.8,"y":0.3},{"k":"H","x":30,"y":0.05},
{"k":"bg","x":-4,"y":0.8},{"k":"bg","x":30,"y":0.8}],
"dt":[{"k":"p","t":"(d)","x":-3.31,"y":122},{"k":"q","t":"(-1.17, 0.01, 4.51)","x":29.65,"y":140},{"k":"m","t":"Soft Mode","x":9.71,"y":134},{"k":"A","t":"A\"","x":14.34,"y":77},{"k":"s","t":"2 low","x":15.06,"y":67},{"k":"m","t":"TA","x":20.35,"y":49},{"k":"A","t":"A\"","x":25.06,"y":44},{"k":"s","t":"2 high","x":25.75,"y":35}],
"ep":[{"x":-4.5,"y":2.5},{"x":-4.25,"y":3.8},{"x":-4,"y":3},{"x":-3.75,"y":4.5},{"x":-3.5,"y":3.4},{"x":-3.25,"y":5},{"x":-3,"y":4},{"x":-2.75,"y":5.5},{"x":-2.5,"y":4.2},{"x":-2.25,"y":6},{"x":-2,"y":5},{"x":-1.75,"y":7},{"x":-1.5,"y":8.5},{"x":-1.25,"y":10},{"x":-1,"y":14},{"x":-0.75,"y":22},{"x":-0.5,"y":29,"e":5.5},{"x":-0.25,"y":27,"e":5.5},{"x":0,"y":31,"e":6},{"x":0.25,"y":26,"e":5.5},{"x":0.5,"y":33,"e":6},{"x":0.75,"y":29,"e":5.5},{"x":1,"y":25.7,"e":5.5},{"x":1.25,"y":17},{"x":1.5,"y":20},{"x":1.75,"y":12.5},{"x":2,"y":9},{"x":2.25,"y":12},{"x":2.5,"y":7.5},{"x":2.75,"y":10.5},{"x":3,"y":9},{"x":3.25,"y":12.5},{"x":3.5,"y":13},{"x":3.75,"y":16},{"x":4,"y":15},{"x":4.25,"y":24},{"x":4.5,"y":38,"e":6.5},{"x":4.75,"y":47,"e":7},{"x":5,"y":74,"e":9},{"x":5.25,"y":80,"e":9.5},{"x":5.5,"y":90,"e":10},{"x":5.75,"y":125.7,"e":12},{"x":6,"y":121,"e":12},{"x":6.25,"y":117,"e":11.5},{"x":6.5,"y":103,"e":11},{"x":6.75,"y":80,"e":9.5},{"x":7,"y":62,"e":8.5},{"x":7.25,"y":52,"e":8},{"x":7.5,"y":40,"e":7},{"x":7.75,"y":22,"e":5},{"x":8,"y":34,"e":6.5},{"x":8.25,"y":27,"e":5.5},{"x":8.5,"y":20},{"x":8.75,"y":17},{"x":9,"y":15},{"x":9.25,"y":16},{"x":9.5,"y":11},{"x":9.75,"y":13},{"x":10,"y":10},{"x":10.25,"y":12},{"x":10.5,"y":8},{"x":10.75,"y":10},{"x":11,"y":7.5},{"x":11.25,"y":9},{"x":11.5,"y":6},{"x":11.75,"y":8},{"x":12,"y":8.5},{"x":12.25,"y":7},{"x":12.5,"y":10},{"x":12.75,"y":5.7},{"x":13,"y":9},{"x":13.25,"y":12},{"x":13.5,"y":13},{"x":13.75,"y":16},{"x":14,"y":24},{"x":14.25,"y":34,"e":6.5},{"x":14.5,"y":49,"e":8},{"x":14.75,"y":65.7,"e":9},{"x":15,"y":59,"e":8.5},{"x":15.25,"y":70.7,"e":9.5},{"x":15.5,"y":50.7,"e":8},{"x":15.75,"y":87.3,"e":10},{"x":16,"y":72.3,"e":9.5},{"x":16.25,"y":57.3,"e":8.5},{"x":16.5,"y":45,"e":7.5},{"x":16.75,"y":38,"e":7},{"x":17,"y":30.7,"e":6},{"x":17.25,"y":25.7,"e":5.5},{"x":17.5,"y":22},{"x":17.75,"y":19},{"x":18,"y":17},{"x":18.25,"y":14},{"x":18.5,"y":12.5},{"x":18.75,"y":13.5},{"x":19,"y":10.5},{"x":19.25,"y":12},{"x":19.5,"y":15},{"x":19.75,"y":20},{"x":20,"y":32.3,"e":6.5},{"x":20.25,"y":40,"e":7},{"x":20.5,"y":55.7,"e":8.5},{"x":20.75,"y":47,"e":7.5},{"x":21,"y":44,"e":7.5},{"x":21.25,"y":52,"e":8},{"x":21.5,"y":65.7,"e":9},{"x":21.75,"y":49,"e":8},{"x":22,"y":35.7,"e":6.5},{"x":22.25,"y":30,"e":6},{"x":22.5,"y":22},{"x":22.75,"y":17},{"x":23,"y":22.3},{"x":23.25,"y":12},{"x":23.5,"y":9},{"x":23.75,"y":7.5},{"x":24,"y":8},{"x":24.25,"y":5.5},{"x":24.5,"y":6.5},{"x":24.75,"y":4},{"x":25,"y":5},{"x":25.25,"y":3.5},{"x":25.5,"y":4.5},{"x":25.75,"y":3},{"x":26,"y":5},{"x":26.25,"y":3.4},{"x":26.5,"y":4.8},{"x":26.75,"y":6.5},{"x":27,"y":5},{"x":27.25,"y":4},{"x":27.5,"y":3.2},{"x":27.75,"y":4.4},{"x":28,"y":3},{"x":28.25,"y":3.8},{"x":28.5,"y":2.6},{"x":28.75,"y":3.6},{"x":29,"y":2.8},{"x":29.25,"y":3.4},{"x":29.5,"y":2.4},{"x":29.75,"y":3.2},{"x":30,"y":2.6}],
"ef":[{"x":-4.5,"y":2.3},{"x":-3,"y":3.3},{"x":-2,"y":5.7},{"x":-1.5,"y":8.3},{"x":-1,"y":12.3},{"x":-0.5,"y":19.7},{"x":-0.25,"y":24},{"x":0,"y":26.3},{"x":0.25,"y":24},{"x":0.5,"y":19.7},{"x":1,"y":13.3},{"x":1.5,"y":10.5},{"x":2,"y":9},{"x":2.5,"y":8.9},{"x":3,"y":9.7},{"x":3.5,"y":12.3},{"x":4,"y":17.3},{"x":4.5,"y":29},{"x":4.75,"y":39},{"x":5,"y":52.3},{"x":5.25,"y":69},{"x":5.5,"y":85.7},{"x":5.75,"y":102},{"x":6,"y":117},{"x":6.15,"y":121.7},{"x":6.3,"y":119},{"x":6.5,"y":109},{"x":6.75,"y":93},{"x":7,"y":77.3},{"x":7.25,"y":64},{"x":7.5,"y":52.3},{"x":7.75,"y":43},{"x":8,"y":35.7},{"x":8.5,"y":25.7},{"x":9,"y":19},{"x":9.5,"y":15.2},{"x":10,"y":12.3},{"x":11,"y":8.3},{"x":12,"y":8.3},{"x":12.5,"y":9.2},{"x":13,"y":10.7},{"x":13.5,"y":13.8},{"x":14,"y":19},{"x":14.25,"y":24.5},{"x":14.5,"y":32.3},{"x":14.75,"y":42},{"x":15,"y":52.3},{"x":15.25,"y":61},{"x":15.5,"y":67.3},{"x":15.7,"y":70.7},{"x":15.85,"y":69.5},{"x":16,"y":64},{"x":16.25,"y":55.5},{"x":16.5,"y":45.7},{"x":16.75,"y":37.5},{"x":17,"y":30.7},{"x":17.25,"y":25},{"x":17.5,"y":20.7},{"x":18,"y":15.7},{"x":18.5,"y":13},{"x":19,"y":12.3},{"x":19.5,"y":14},{"x":20,"y":19},{"x":20.25,"y":24},{"x":20.5,"y":30.7},{"x":20.75,"y":38.5},{"x":21,"y":45.7},{"x":21.2,"y":49},{"x":21.4,"y":47},{"x":21.5,"y":44},{"x":21.75,"y":37},{"x":22,"y":29},{"x":22.25,"y":22.5},{"x":22.5,"y":17.3},{"x":23,"y":10.7},{"x":23.5,"y":7.5},{"x":24,"y":5.7},{"x":25,"y":4},{"x":26,"y":3.4},{"x":27,"y":3},{"x":28.5,"y":2.6},{"x":30,"y":2.3}],
"ec":[{"k":"E0","x":-4.5,"y":0.5},{"k":"E0","x":-2.8,"y":0.8},{"k":"E0","x":-2.1,"y":1.35},{"k":"E0","x":-1.4,"y":2.9},{"k":"E0","x":-1.05,"y":4.9},{"k":"E0","x":-0.7,"y":9},{"k":"E0","x":-0.35,"y":14.6},{"k":"E0","x":0,"y":18},{"k":"E0","x":0.35,"y":14.6},{"k":"E0","x":0.7,"y":9},{"k":"E0","x":1.05,"y":4.9},{"k":"E0","x":1.4,"y":2.9},{"k":"E0","x":2.1,"y":1.35},{"k":"E0","x":2.8,"y":0.8},{"k":"E0","x":4.2,"y":0.36},{"k":"E0","x":10,"y":0.1},{"k":"E0","x":30,"y":0.02},
{"k":"B","x":-4.5,"y":1.5},{"k":"B","x":-2,"y":2.7},{"k":"B","x":0,"y":4.2},{"k":"B","x":1.5,"y":5},{"k":"B","x":3,"y":4.2},{"k":"B","x":5,"y":2.7},{"k":"B","x":8,"y":1.3},{"k":"B","x":12,"y":0.6},{"k":"B","x":20,"y":0.2},{"k":"B","x":30,"y":0.1},
{"k":"S","x":-4.5,"y":0.9},{"k":"S","x":-0.45,"y":2.3},{"k":"S","x":1.75,"y":5.2},{"k":"S","x":2.85,"y":8.7},{"k":"S","x":3.95,"y":18.6},{"k":"S","x":4.5,"y":31.3},{"k":"S","x":5.05,"y":58},{"k":"S","x":5.6,"y":94},{"k":"S","x":6.15,"y":116},{"k":"S","x":6.7,"y":94},{"k":"S","x":7.25,"y":58},{"k":"S","x":7.8,"y":31.3},{"k":"S","x":8.35,"y":18.6},{"k":"S","x":9.45,"y":8.7},{"k":"S","x":10.55,"y":5.2},{"k":"S","x":12.75,"y":2.3},{"k":"S","x":14.95,"y":1.4},{"k":"S","x":30,"y":0.4},
{"k":"L","x":-4.5,"y":0.3},{"k":"L","x":10,"y":1.24},{"k":"L","x":11.9,"y":2.8},{"k":"L","x":12.85,"y":4.65},{"k":"L","x":13.8,"y":9.9},{"k":"L","x":14.275,"y":16.7},{"k":"L","x":14.75,"y":31},{"k":"L","x":15.225,"y":50.2},{"k":"L","x":15.7,"y":62},{"k":"L","x":16.175,"y":50.2},{"k":"L","x":16.65,"y":31},{"k":"L","x":17.125,"y":16.7},{"k":"L","x":17.6,"y":9.9},{"k":"L","x":18.55,"y":4.65},{"k":"L","x":19.5,"y":2.8},{"k":"L","x":21.4,"y":1.24},{"k":"L","x":30,"y":0.4},
{"k":"T","x":-4.5,"y":0.1},{"k":"T","x":16.4,"y":0.84},{"k":"T","x":18,"y":1.9},{"k":"T","x":18.8,"y":3.15},{"k":"T","x":19.6,"y":6.7},{"k":"T","x":20,"y":11.3},{"k":"T","x":20.4,"y":21},{"k":"T","x":20.8,"y":34},{"k":"T","x":21.2,"y":42},{"k":"T","x":21.6,"y":34},{"k":"T","x":22,"y":21},{"k":"T","x":22.4,"y":11.3},{"k":"T","x":22.8,"y":6.7},{"k":"T","x":23.6,"y":3.15},{"k":"T","x":24.4,"y":1.9},{"k":"T","x":26,"y":0.84},{"k":"T","x":30,"y":0.4},
{"k":"bg","x":-4.5,"y":0.8},{"k":"bg","x":30,"y":0.8}],
"et":[{"k":"p","t":"(e)","x":-3.31,"y":116},{"k":"q","t":"(-1.37, -0.01, 4.51)","x":29.65,"y":132},{"k":"m","t":"Soft Mode","x":9.74,"y":130},{"k":"A","t":"A\"","x":15.23,"y":114},{"k":"s","t":"2 low","x":16,"y":106},{"k":"m","t":"TA","x":21.28,"y":87}]
},
"vconcat":[
{"width":602,"height":156,
"encoding":{"x":{"field":"x","type":"quantitative","scale":{"domain":[-5,30],"nice":false},"axis":null},"y":{"field":"y","type":"quantitative","scale":{"domain":[0,156],"nice":false},"axis":null}},
"resolve":{"axis":{"x":"independent","y":"independent"}},
"layer":[
{"data":{"name":"ap"},"mark":{"type":"line","color":"black","strokeWidth":0.6,"clip":true},"encoding":{"x":{"field":"x","type":"quantitative","scale":{"domain":[-5,30],"nice":false},"axis":{"orient":"bottom","values":[-5,0,5,10,15,20,25,30],"tickSize":-7,"title":null}},"y":{"field":"y","type":"quantitative","scale":{"domain":[0,156],"nice":false},"axis":{"orient":"left","values":[18,36.4,54.8,73.2,91.6,110,128.4,146.8],"tickSize":-5,"title":null}}}},
{"data":{"name":"ap"},"transform":[{"filter":"isValid(datum.e)"}],"mark":{"type":"errorbar","ticks":true,"color":"black","clip":true},"encoding":{"yError":{"field":"e"}}},
{"data":{"name":"ap"},"mark":{"type":"circle","color":"black","size":110,"opacity":1,"clip":true},"encoding":{"x":{"field":"x","type":"quantitative","scale":{"domain":[-5,30],"nice":false},"axis":{"orient":"top","values":[-5,0,5,10,15,20,25,30],"tickSize":-7,"title":null}},"y":{"field":"y","type":"quantitative","scale":{"domain":[0,156],"nice":false},"axis":{"orient":"right","values":[18,36.4,54.8,73.2,91.6,110,128.4,146.8],"tickSize":-5,"title":null}}}},
{"data":{"name":"af"},"mark":{"type":"line","color":"#ff0000","strokeWidth":2,"interpolate":"monotone","clip":true},"encoding":{"x":{"field":"x","type":"quantitative","scale":{"domain":[-5,30],"nice":false},"axis":{"orient":"bottom","values":[-2.5,2.5,7.5,12.5,17.5,22.5,27.5],"tickSize":-4,"title":null}}}},
{"data":{"name":"ac"},"transform":[{"filter":"datum.k!='bg'"}],"mark":{"type":"line","color":"#0000ff","strokeWidth":1,"interpolate":"monotone","clip":true},"encoding":{"x":{"field":"x","type":"quantitative","scale":{"domain":[-5,30],"nice":false},"axis":{"orient":"top","values":[-2.5,2.5,7.5,12.5,17.5,22.5,27.5],"tickSize":-4,"title":null}},"detail":{"field":"k"}}},
{"data":{"name":"ac"},"transform":[{"filter":"datum.k=='bg'"}],"mark":{"type":"line","color":"#0000ff","strokeWidth":2.5,"clip":true},"encoding":{}},
{"data":{"name":"at"},"transform":[{"filter":"datum.k=='p'"}],"mark":{"type":"text","fontSize":28,"align":"center","baseline":"middle"},"encoding":{"text":{"field":"t"}}},
{"data":{"name":"at"},"transform":[{"filter":"datum.k=='q'"}],"mark":{"type":"text","fontSize":22,"align":"right","baseline":"middle"},"encoding":{"text":{"field":"t"}}},
{"data":{"name":"at"},"transform":[{"filter":"datum.k=='m'"}],"mark":{"type":"text","fontSize":22,"align":"center","baseline":"middle"},"encoding":{"text":{"field":"t"}}},
{"data":{"name":"at"},"transform":[{"filter":"datum.k=='A'"}],"mark":{"type":"text","fontSize":23,"fontStyle":"italic","align":"center","baseline":"middle"},"encoding":{"text":{"field":"t"}}},
{"data":{"name":"at"},"transform":[{"filter":"datum.k=='s'"}],"mark":{"type":"text","fontSize":15,"align":"left","baseline":"middle"},"encoding":{"text":{"field":"t"}}}
]},
{"width":602,"height":152,
"encoding":{"x":{"field":"x","type":"quantitative","scale":{"domain":[-5,30],"nice":false},"axis":null},"y":{"field":"y","type":"quantitative","scale":{"domain":[0,152],"nice":false},"axis":null}},
"resolve":{"axis":{"x":"independent","y":"independent"}},
"layer":[
{"data":{"name":"bp"},"mark":{"type":"line","color":"black","strokeWidth":0.6,"clip":true},"encoding":{"x":{"field":"x","type":"quantitative","scale":{"domain":[-5,30],"nice":false},"axis":{"orient":"bottom","values":[-5,0,5,10,15,20,25,30],"tickSize":-7,"title":null}},"y":{"field":"y","type":"quantitative","scale":{"domain":[0,152],"nice":false},"axis":{"orient":"left","values":[16,31,46,61,76,91,106,121,136,151],"tickSize":-5,"title":null}}}},
{"data":{"name":"bp"},"transform":[{"filter":"isValid(datum.e)"}],"mark":{"type":"errorbar","ticks":true,"color":"black","clip":true},"encoding":{"yError":{"field":"e"}}},
{"data":{"name":"bp"},"mark":{"type":"circle","color":"black","size":110,"opacity":1,"clip":true},"encoding":{"x":{"field":"x","type":"quantitative","scale":{"domain":[-5,30],"nice":false},"axis":{"orient":"top","values":[-5,0,5,10,15,20,25,30],"tickSize":-7,"title":null}},"y":{"field":"y","type":"quantitative","scale":{"domain":[0,152],"nice":false},"axis":{"orient":"right","values":[16,31,46,61,76,91,106,121,136,151],"tickSize":-5,"title":null}}}},
{"data":{"name":"bf"},"mark":{"type":"line","color":"#ff0000","strokeWidth":2,"interpolate":"monotone","clip":true},"encoding":{"x":{"field":"x","type":"quantitative","scale":{"domain":[-5,30],"nice":false},"axis":{"orient":"bottom","values":[-2.5,2.5,7.5,12.5,17.5,22.5,27.5],"tickSize":-4,"title":null}}}},
{"data":{"name":"bc"},"transform":[{"filter":"datum.k!='bg'"}],"mark":{"type":"line","color":"#0000ff","strokeWidth":1,"interpolate":"monotone","clip":true},"encoding":{"x":{"field":"x","type":"quantitative","scale":{"domain":[-5,30],"nice":false},"axis":{"orient":"top","values":[-2.5,2.5,7.5,12.5,17.5,22.5,27.5],"tickSize":-4,"title":null}},"detail":{"field":"k"}}},
{"data":{"name":"bc"},"transform":[{"filter":"datum.k=='bg'"}],"mark":{"type":"line","color":"#0000ff","strokeWidth":2.5,"clip":true},"encoding":{}},
{"data":{"name":"bt"},"transform":[{"filter":"datum.k=='p'"}],"mark":{"type":"text","fontSize":28,"align":"center","baseline":"middle"},"encoding":{"text":{"field":"t"}}},
{"data":{"name":"bt"},"transform":[{"filter":"datum.k=='q'"}],"mark":{"type":"text","fontSize":22,"align":"right","baseline":"middle"},"encoding":{"text":{"field":"t"}}},
{"data":{"name":"bt"},"transform":[{"filter":"datum.k=='m'"}],"mark":{"type":"text","fontSize":22,"align":"center","baseline":"middle"},"encoding":{"text":{"field":"t"}}},
{"data":{"name":"bt"},"transform":[{"filter":"datum.k=='A'"}],"mark":{"type":"text","fontSize":23,"fontStyle":"italic","align":"center","baseline":"middle"},"encoding":{"text":{"field":"t"}}},
{"data":{"name":"bt"},"transform":[{"filter":"datum.k=='s'"}],"mark":{"type":"text","fontSize":15,"align":"left","baseline":"middle"},"encoding":{"text":{"field":"t"}}}
]},
{"width":602,"height":155,
"encoding":{"x":{"field":"x","type":"quantitative","scale":{"domain":[-5,30],"nice":false},"axis":null},"y":{"field":"y","type":"quantitative","scale":{"domain":[0,155],"nice":false},"axis":null}},
"resolve":{"axis":{"x":"independent","y":"independent"}},
"layer":[
{"data":{"name":"cp"},"mark":{"type":"line","color":"black","strokeWidth":0.6,"clip":true},"encoding":{"x":{"field":"x","type":"quantitative","scale":{"domain":[-5,30],"nice":false},"axis":{"orient":"bottom","values":[-5,0,5,10,15,20,25,30],"tickSize":-7,"title":null}},"y":{"field":"y","type":"quantitative","scale":{"domain":[0,155],"nice":false},"axis":{"orient":"left","values":[10.7,24,37.3,50.7,64,77.3,90.7,104,117.3,130.7,144],"tickSize":-5,"title":"Intensity (arb. units)","titleFontSize":46,"titlePadding":9,"titleY":112}}}},
{"data":{"name":"cp"},"transform":[{"filter":"isValid(datum.e)"}],"mark":{"type":"errorbar","ticks":true,"color":"black","clip":true},"encoding":{"yError":{"field":"e"}}},
{"data":{"name":"cp"},"mark":{"type":"circle","color":"black","size":110,"opacity":1,"clip":true},"encoding":{"x":{"field":"x","type":"quantitative","scale":{"domain":[-5,30],"nice":false},"axis":{"orient":"top","values":[-5,0,5,10,15,20,25,30],"tickSize":-7,"title":null}},"y":{"field":"y","type":"quantitative","scale":{"domain":[0,155],"nice":false},"axis":{"orient":"right","values":[10.7,24,37.3,50.7,64,77.3,90.7,104,117.3,130.7,144],"tickSize":-5,"title":null}}}},
{"data":{"name":"cf"},"mark":{"type":"line","color":"#ff0000","strokeWidth":2,"interpolate":"monotone","clip":true},"encoding":{"x":{"field":"x","type":"quantitative","scale":{"domain":[-5,30],"nice":false},"axis":{"orient":"bottom","values":[-2.5,2.5,7.5,12.5,17.5,22.5,27.5],"tickSize":-4,"title":null}}}},
{"data":{"name":"cc"},"transform":[{"filter":"datum.k!='bg'"}],"mark":{"type":"line","color":"#0000ff","strokeWidth":1,"interpolate":"monotone","clip":true},"encoding":{"x":{"field":"x","type":"quantitative","scale":{"domain":[-5,30],"nice":false},"axis":{"orient":"top","values":[-2.5,2.5,7.5,12.5,17.5,22.5,27.5],"tickSize":-4,"title":null}},"detail":{"field":"k"}}},
{"data":{"name":"cc"},"transform":[{"filter":"datum.k=='bg'"}],"mark":{"type":"line","color":"#0000ff","strokeWidth":2.5,"clip":true},"encoding":{}},
{"data":{"name":"ct"},"transform":[{"filter":"datum.k=='p'"}],"mark":{"type":"text","fontSize":28,"align":"center","baseline":"middle"},"encoding":{"text":{"field":"t"}}},
{"data":{"name":"ct"},"transform":[{"filter":"datum.k=='q'"}],"mark":{"type":"text","fontSize":22,"align":"right","baseline":"middle"},"encoding":{"text":{"field":"t"}}},
{"data":{"name":"ct"},"transform":[{"filter":"datum.k=='m'"}],"mark":{"type":"text","fontSize":22,"align":"center","baseline":"middle"},"encoding":{"text":{"field":"t"}}},
{"data":{"name":"ct"},"transform":[{"filter":"datum.k=='A'"}],"mark":{"type":"text","fontSize":23,"fontStyle":"italic","align":"center","baseline":"middle"},"encoding":{"text":{"field":"t"}}},
{"data":{"name":"ct"},"transform":[{"filter":"datum.k=='s'"}],"mark":{"type":"text","fontSize":15,"align":"left","baseline":"middle"},"encoding":{"text":{"field":"t"}}}
]},
{"width":602,"height":158,
"encoding":{"x":{"field":"x","type":"quantitative","scale":{"domain":[-5,30],"nice":false},"axis":null},"y":{"field":"y","type":"quantitative","scale":{"domain":[0,158],"nice":false},"axis":null}},
"resolve":{"axis":{"x":"independent","y":"independent"}},
"layer":[
{"data":{"name":"dp"},"mark":{"type":"line","color":"black","strokeWidth":0.6,"clip":true},"encoding":{"x":{"field":"x","type":"quantitative","scale":{"domain":[-5,30],"nice":false},"axis":{"orient":"bottom","values":[-5,0,5,10,15,20,25,30],"tickSize":-7,"title":null}},"y":{"field":"y","type":"quantitative","scale":{"domain":[0,158],"nice":false},"axis":{"orient":"left","values":[14,25,36,47,58,69,80,91,102,113,124,135,146],"tickSize":-5,"title":null}}}},
{"data":{"name":"dp"},"transform":[{"filter":"isValid(datum.e)"}],"mark":{"type":"errorbar","ticks":true,"color":"black","clip":true},"encoding":{"yError":{"field":"e"}}},
{"data":{"name":"dp"},"mark":{"type":"circle","color":"black","size":110,"opacity":1,"clip":true},"encoding":{"x":{"field":"x","type":"quantitative","scale":{"domain":[-5,30],"nice":false},"axis":{"orient":"top","values":[-5,0,5,10,15,20,25,30],"tickSize":-7,"title":null}},"y":{"field":"y","type":"quantitative","scale":{"domain":[0,158],"nice":false},"axis":{"orient":"right","values":[14,25,36,47,58,69,80,91,102,113,124,135,146],"tickSize":-5,"title":null}}}},
{"data":{"name":"df"},"mark":{"type":"line","color":"#ff0000","strokeWidth":2,"interpolate":"monotone","clip":true},"encoding":{"x":{"field":"x","type":"quantitative","scale":{"domain":[-5,30],"nice":false},"axis":{"orient":"bottom","values":[-2.5,2.5,7.5,12.5,17.5,22.5,27.5],"tickSize":-4,"title":null}}}},
{"data":{"name":"dc"},"transform":[{"filter":"datum.k!='bg'"}],"mark":{"type":"line","color":"#0000ff","strokeWidth":1,"interpolate":"monotone","clip":true},"encoding":{"x":{"field":"x","type":"quantitative","scale":{"domain":[-5,30],"nice":false},"axis":{"orient":"top","values":[-2.5,2.5,7.5,12.5,17.5,22.5,27.5],"tickSize":-4,"title":null}},"detail":{"field":"k"}}},
{"data":{"name":"dc"},"transform":[{"filter":"datum.k=='bg'"}],"mark":{"type":"line","color":"#0000ff","strokeWidth":2.5,"clip":true},"encoding":{}},
{"data":{"name":"dt"},"transform":[{"filter":"datum.k=='p'"}],"mark":{"type":"text","fontSize":28,"align":"center","baseline":"middle"},"encoding":{"text":{"field":"t"}}},
{"data":{"name":"dt"},"transform":[{"filter":"datum.k=='q'"}],"mark":{"type":"text","fontSize":22,"align":"right","baseline":"middle"},"encoding":{"text":{"field":"t"}}},
{"data":{"name":"dt"},"transform":[{"filter":"datum.k=='m'"}],"mark":{"type":"text","fontSize":22,"align":"center","baseline":"middle"},"encoding":{"text":{"field":"t"}}},
{"data":{"name":"dt"},"transform":[{"filter":"datum.k=='A'"}],"mark":{"type":"text","fontSize":23,"fontStyle":"italic","align":"center","baseline":"middle"},"encoding":{"text":{"field":"t"}}},
{"data":{"name":"dt"},"transform":[{"filter":"datum.k=='s'"}],"mark":{"type":"text","fontSize":15,"align":"left","baseline":"middle"},"encoding":{"text":{"field":"t"}}}
]},
{"width":602,"height":152,
"encoding":{"x":{"field":"x","type":"quantitative","scale":{"domain":[-5,30],"nice":false},"axis":null},"y":{"field":"y","type":"quantitative","scale":{"domain":[0,152],"nice":false},"axis":null}},
"resolve":{"axis":{"x":"independent","y":"independent"}},
"layer":[
{"data":{"name":"ep"},"mark":{"type":"line","color":"black","strokeWidth":0.6,"clip":true},"encoding":{"x":{"field":"x","type":"quantitative","scale":{"domain":[-5,30],"nice":false},"axis":{"orient":"bottom","values":[-5,0,5,10,15,20,25,30],"tickSize":-7,"labels":true,"labelFontSize":20,"labelPadding":12,"title":"Energy Transfer (meV)","titleFontSize":21,"titlePadding":8}},"y":{"field":"y","type":"quantitative","scale":{"domain":[0,152],"nice":false},"axis":{"orient":"left","values":[13.7,25.2,36.7,48.2,59.7,71.2,82.7,94.2,105.7,117.2,128.7,140.2],"tickSize":-5,"title":null}}}},
{"data":{"name":"ep"},"transform":[{"filter":"isValid(datum.e)"}],"mark":{"type":"errorbar","ticks":true,"color":"black","clip":true},"encoding":{"yError":{"field":"e"}}},
{"data":{"name":"ep"},"mark":{"type":"circle","color":"black","size":110,"opacity":1,"clip":true},"encoding":{"x":{"field":"x","type":"quantitative","scale":{"domain":[-5,30],"nice":false},"axis":{"orient":"top","values":[-5,0,5,10,15,20,25,30],"tickSize":-7,"title":null}},"y":{"field":"y","type":"quantitative","scale":{"domain":[0,152],"nice":false},"axis":{"orient":"right","values":[13.7,25.2,36.7,48.2,59.7,71.2,82.7,94.2,105.7,117.2,128.7,140.2],"tickSize":-5,"title":null}}}},
{"data":{"name":"ef"},"mark":{"type":"line","color":"#ff0000","strokeWidth":2,"interpolate":"monotone","clip":true},"encoding":{"x":{"field":"x","type":"quantitative","scale":{"domain":[-5,30],"nice":false},"axis":{"orient":"bottom","values":[-2.5,2.5,7.5,12.5,17.5,22.5,27.5],"tickSize":-4,"title":null}}}},
{"data":{"name":"ec"},"transform":[{"filter":"datum.k!='bg'"}],"mark":{"type":"line","color":"#0000ff","strokeWidth":1,"interpolate":"monotone","clip":true},"encoding":{"x":{"field":"x","type":"quantitative","scale":{"domain":[-5,30],"nice":false},"axis":{"orient":"top","values":[-2.5,2.5,7.5,12.5,17.5,22.5,27.5],"tickSize":-4,"title":null}},"detail":{"field":"k"}}},
{"data":{"name":"ec"},"transform":[{"filter":"datum.k=='bg'"}],"mark":{"type":"line","color":"#0000ff","strokeWidth":2.5,"clip":true},"encoding":{}},
{"data":{"name":"et"},"transform":[{"filter":"datum.k=='p'"}],"mark":{"type":"text","fontSize":28,"align":"center","baseline":"middle"},"encoding":{"text":{"field":"t"}}},
{"data":{"name":"et"},"transform":[{"filter":"datum.k=='q'"}],"mark":{"type":"text","fontSize":22,"align":"right","baseline":"middle"},"encoding":{"text":{"field":"t"}}},
{"data":{"name":"et"},"transform":[{"filter":"datum.k=='m'"}],"mark":{"type":"text","fontSize":22,"align":"center","baseline":"middle"},"encoding":{"text":{"field":"t"}}},
{"data":{"name":"et"},"transform":[{"filter":"datum.k=='A'"}],"mark":{"type":"text","fontSize":23,"fontStyle":"italic","align":"center","baseline":"middle"},"encoding":{"text":{"field":"t"}}},
{"data":{"name":"et"},"transform":[{"filter":"datum.k=='s'"}],"mark":{"type":"text","fontSize":15,"align":"left","baseline":"middle"},"encoding":{"text":{"field":"t"}}}
]}
]
}
